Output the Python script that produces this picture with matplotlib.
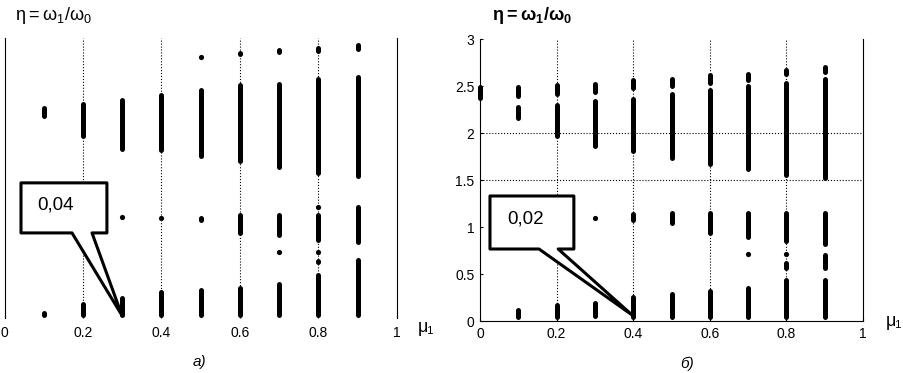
import matplotlib
matplotlib.use('Agg')
import matplotlib.pyplot as plt
from matplotlib.patches import Polygon

plt.rcParams['font.family'] = ['Liberation Sans', 'DejaVu Sans']
plt.rcParams['mathtext.fontset'] = 'custom'
plt.rcParams['mathtext.rm'] = 'Liberation Sans'

# panel a) : vertical bands of points (mu1, eta_min, eta_max)
a_x  = [0.1, 0.1, 0.2, 0.2, 0.3, 0.3, 0.4, 0.4, 0.5, 0.5, 0.5,
        0.6, 0.6, 0.6, 0.6, 0.7, 0.7, 0.7, 0.7,
        0.8, 0.8, 0.8, 0.8, 0.8, 0.9, 0.9, 0.9, 0.9, 0.9]
a_lo = [2.14, 0.01, 1.92, 0.01, 1.79, 0.01, 1.77, 0.01, 1.71, 1.03, 0.01,
        2.80, 1.66, 0.89, 0.01, 2.82, 1.59, 0.86, 0.01,
        2.84, 1.53, 0.81, 0.58, 0.01, 2.86, 1.50, 0.79, 0.68, 0.01]
a_hi = [2.27, 0.08, 2.32, 0.17, 2.36, 0.24, 2.41, 0.30, 2.47, 1.10, 0.32,
        2.86, 2.52, 1.13, 0.35, 2.89, 2.53, 1.13, 0.39,
        2.92, 2.58, 1.13, 0.63, 0.48, 2.95, 2.61, 1.21, 0.72, 0.64]
a_dot_x = [0.3, 0.4, 0.5, 0.7, 0.8, 0.8]
a_dot_y = [1.08, 1.07, 2.80, 0.71, 1.19, 0.71]

# panel б)
b_x  = [0.0, 0.1, 0.1, 0.1, 0.2, 0.2, 0.2, 0.3, 0.3, 0.3,
        0.4, 0.4, 0.4, 0.4, 0.5, 0.5, 0.5, 0.5,
        0.6, 0.6, 0.6, 0.6, 0.7, 0.7, 0.7, 0.7,
        0.8, 0.8, 0.8, 0.8, 0.8, 0.9, 0.9, 0.9, 0.9, 0.9]
b_lo = [2.35, 2.37, 2.14, 0.02, 2.39, 1.94, 0.02, 2.41, 1.84, 0.03,
        2.45, 1.78, 1.05, 0.02, 2.48, 1.71, 1.02, 0.02,
        2.51, 1.65, 0.91, 0.02, 2.54, 1.59, 0.87, 0.02,
        2.60, 1.53, 0.83, 0.54, 0.02, 2.62, 1.50, 0.79, 0.54, 0.02]
b_hi = [2.51, 2.51, 2.30, 0.14, 2.53, 2.32, 0.19, 2.55, 2.36, 0.22,
        2.59, 2.39, 1.16, 0.28, 2.60, 2.44, 1.17, 0.31,
        2.64, 2.48, 1.17, 0.34, 2.65, 2.52, 1.17, 0.38,
        2.69, 2.56, 1.17, 0.64, 0.46, 2.73, 2.60, 1.17, 0.73, 0.46]
b_dot_x = [0.3, 0.7, 0.8]
b_dot_y = [1.10, 0.71, 0.71]

xticks = [0, 0.2, 0.4, 0.6, 0.8, 1]
xticklabels = ['0', '0.2', '0.4', '0.6', '0.8', '1']
yticks = [0, 0.5, 1, 1.5, 2, 2.5, 3]
yticklabels = ['0', '0.5', '1', '1.5', '2', '2.5', '3']

fig = plt.figure(figsize=(9.04, 3.73), dpi=100)
ax1 = fig.add_axes([0.005, 0.1475, 0.434, 0.751])
ax2 = fig.add_axes([0.531, 0.1394, 0.4237, 0.756])


def draw_bands(ax, x, lo, hi, dx, dy):
    # pull the ends in by the round cap so the visible extent matches lo..hi
    inset = 0.024
    lo2, hi2 = [], []
    for a, b in zip(lo, hi):
        m = (a + b) / 2
        lo2.append(min(a + inset, m))
        hi2.append(max(b - inset, m))
    lc = ax.vlines(x, lo2, hi2, colors='black', linewidth=3.6, clip_on=False, zorder=3)
    lc.set_capstyle('round')
    ax.scatter(dx, dy, s=14, color='black', linewidths=0, clip_on=False, zorder=3)


def callout(ax, box, base, tip, label, text_xy):
    x0, x1, y0, y1 = box
    pts = [(x0, y1), (x1, y1), (x1, y0), (base[1], y0), tip, (base[0], y0), (x0, y0)]
    poly = Polygon(pts, closed=True, facecolor='white', edgecolor='black',
                   linewidth=2.2, joinstyle='round', clip_on=False, zorder=5)
    ax.add_patch(poly)
    ax.text(text_xy[0], text_xy[1], label, fontsize=13.5, va='center', ha='left', zorder=6)


for ax in (ax1, ax2):
    ax.set_xlim(0, 1)
    ax.set_ylim(0, 3)
    ax.set_xticks(xticks)
    ax.set_xticklabels(xticklabels, fontsize=10)
    ax.spines['top'].set_visible(False)
    for xg in [0.2, 0.4, 0.6, 0.8]:
        ax.axvline(xg, color='black', linestyle=':', linewidth=0.8, zorder=1)
    ax.tick_params(direction='in', length=2, width=0.8)

# panel a)
ax1.spines['bottom'].set_visible(False)
ax1.set_yticks([])
ax1.tick_params(axis='x', pad=6)
draw_bands(ax1, a_x, a_lo, a_hi, a_dot_x, a_dot_y)
callout(ax1, (0.042, 0.261, 0.911, 1.447), (0.172, 0.223), (0.299, 0.03), '0,04', (0.083, 1.21))

# panel б)
ax2.set_yticks(yticks)
ax2.set_yticklabels(yticklabels, fontsize=10)
ax2.tick_params(axis='both', pad=4)
for yg in [1.5, 2]:
    ax2.axhline(yg, color='black', linestyle=':', linewidth=0.8, zorder=1)
draw_bands(ax2, b_x, b_lo, b_hi, b_dot_x, b_dot_y)
callout(ax2, (0.026, 0.245, 0.766, 1.33), (0.154, 0.204), (0.397, 0.064), '0,02', (0.070, 1.085))

# labels
eta = r'$\mathregular{\eta = \omega_1/\omega_0}$'
fig.text(15 / 904, 1 - 15 / 373, eta, fontsize=13, va='center', ha='left')
fig.text(492 / 904, 1 - 15 / 373, eta, fontsize=13, va='center', ha='left', fontweight='bold')
fig.text(418 / 904, 1 - 327 / 373, 'μ₁', fontsize=13, va='center', ha='left')
fig.text(886 / 904, 1 - 322 / 373, 'μ₁', fontsize=13, va='center', ha='left')
fig.text(199 / 904, 1 - 362 / 373, 'а)', fontsize=11, style='italic', va='center', ha='center')
fig.text(687 / 904, 1 - 364 / 373, 'б)', fontsize=11, style='italic', va='center', ha='center')

fig.savefig('out.png', dpi=100)
